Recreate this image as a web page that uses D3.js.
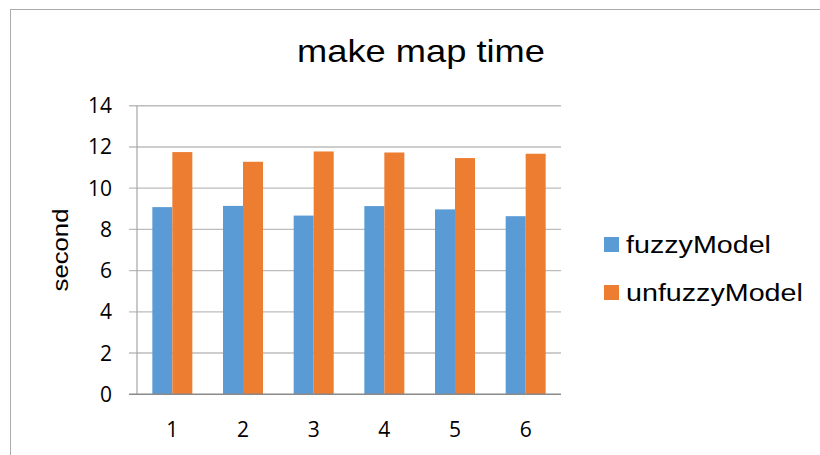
<!DOCTYPE html>
<html>
<head>
<meta charset="utf-8">
<script src="https://cdn.jsdelivr.net/npm/d3@7/dist/d3.min.js"></script>
<style>
  html, body { margin: 0; padding: 0; background: #fff; }
  svg { display: block; }
</style>
</head>
<body>
<svg id="chart" width="820" height="455"></svg>
<script>
// Run labels along the x axis
const categories = ["1", "2", "3", "4", "5", "6"];
// Series names shown in the legend
const seriesNames = ["fuzzyModel", "unfuzzyModel"];
// Map-building time in seconds per run
const fuzzyModel = [9.08, 9.14, 8.67, 9.13, 8.97, 8.64];
const unfuzzyModel = [11.75, 11.28, 11.78, 11.73, 11.46, 11.67];
// Y axis tick values
const yTicks = [0, 2, 4, 6, 8, 10, 12, 14];

const colors = ["#5b9bd5", "#ed7d31"];
const seriesValues = [fuzzyModel, unfuzzyModel];
const textStretch = 1.17;

const svg = d3.select("#chart");

// Outer frame of the chart area
svg.append("rect")
  .attr("x", 10.5).attr("y", 9.5)
  .attr("width", 840).attr("height", 470)
  .attr("fill", "none")
  .attr("stroke", "#ababab")
  .attr("stroke-width", 1);

const plot = { left: 137, right: 561, top: 105.7, bottom: 394.3 };

const x = d3.scaleBand()
  .domain(categories)
  .range([plot.left, plot.right])
  .padding(0);

const y = d3.scaleLinear()
  .domain([0, 14])
  .range([plot.bottom, plot.top]);

const inner = d3.scaleBand()
  .domain(seriesNames)
  .range([0, 40])
  .padding(0);

// Horizontal gridlines
svg.append("g")
  .selectAll("line")
  .data(yTicks.filter(d => d > 0))
  .join("line")
  .attr("x1", plot.left - 8).attr("x2", plot.right)
  .attr("y1", d => y(d)).attr("y2", d => y(d))
  .attr("stroke", "#bcbcbc")
  .attr("stroke-width", 1.4);

// Bars
const groups = svg.append("g")
  .selectAll("g")
  .data(categories)
  .join("g")
  .attr("transform", d => `translate(${x(d) + x.bandwidth() / 2 - 20},0)`);

groups.selectAll("rect")
  .data((c, i) => seriesNames.map((s, k) => ({ s, k, v: seriesValues[k][i] })))
  .join("rect")
  .attr("x", d => inner(d.s))
  .attr("width", inner.bandwidth())
  .attr("y", d => y(d.v))
  .attr("height", d => y(0) - y(d.v))
  .attr("fill", d => colors[d.k]);

// Vertical axis line
svg.append("line")
  .attr("x1", plot.left).attr("x2", plot.left)
  .attr("y1", plot.top).attr("y2", plot.bottom)
  .attr("stroke", "#a6a6a6")
  .attr("stroke-width", 1.2);

// Baseline
svg.append("line")
  .attr("x1", plot.left - 8).attr("x2", plot.right)
  .attr("y1", y(0)).attr("y2", y(0))
  .attr("stroke", "#8a8a8a")
  .attr("stroke-width", 1.4);

// Y tick labels
svg.append("g")
  .selectAll("text")
  .data(yTicks)
  .join("text")
  .attr("x", 112)
  .attr("y", d => y(d) + 7.5)
  .attr("text-anchor", "end")
  .attr("font-family", "'Open Sans', sans-serif")
  .attr("font-size", 21)
  .attr("fill", "#000")
  .text(d => d);

// X tick labels
svg.append("g")
  .selectAll("text")
  .data(categories)
  .join("text")
  .attr("x", d => x(d) + x.bandwidth() / 2)
  .attr("y", 437)
  .attr("text-anchor", "middle")
  .attr("font-family", "'Open Sans', sans-serif")
  .attr("font-size", 21)
  .attr("fill", "#000")
  .text(d => d);

// Title
svg.append("text")
  .attr("transform", `translate(421,62.3) scale(${textStretch},1)`)
  .attr("text-anchor", "middle")
  .attr("font-family", "'Liberation Sans', Arial, sans-serif")
  .attr("font-size", 31)
  .attr("fill", "#000")
  .text("make map time");

// Y axis title
svg.append("text")
  .attr("transform", `translate(68.3,250) rotate(-90) scale(${textStretch},1)`)
  .attr("text-anchor", "middle")
  .attr("font-family", "'Liberation Sans', Arial, sans-serif")
  .attr("font-size", 22)
  .attr("fill", "#000")
  .text("second");

// Legend
const legend = svg.append("g")
  .selectAll("g")
  .data(seriesNames)
  .join("g")
  .attr("transform", (d, i) => `translate(604,${237 + i * 48})`);

legend.append("rect")
  .attr("width", 15).attr("height", 15)
  .attr("fill", (d, i) => colors[i]);

legend.append("text")
  .attr("transform", `translate(22,16.3) scale(${textStretch},1)`)
  .attr("font-family", "'Liberation Sans', Arial, sans-serif")
  .attr("font-size", 24.5)
  .attr("fill", "#000")
  .text(d => d);
</script>
</body>
</html>
